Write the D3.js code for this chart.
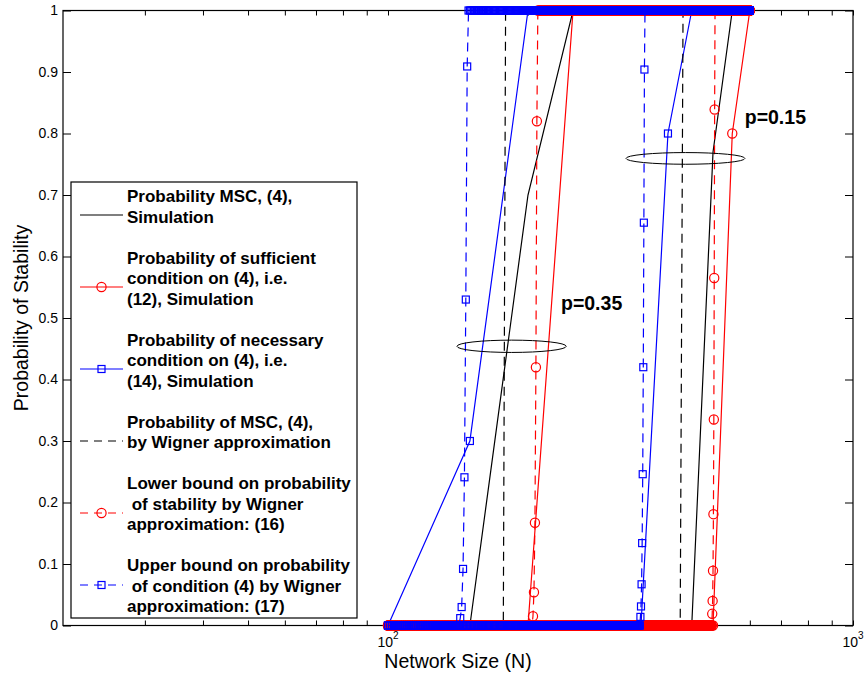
<!DOCTYPE html>
<html>
<head>
<meta charset="utf-8">
<title>Probability of Stability</title>
<script src="https://d3js.org/d3.v7.min.js"></script>
<style>
  body { margin: 0; background: #fff; }
  text { font-family: "Liberation Sans", Arial, Helvetica, sans-serif; }
</style>
</head>
<body>
<script>
var width = 866
var height = 681

// simulation, N = 100:50:600
var simN      = [100, 150, 200, 250, 300, 350, 400, 450, 500, 550, 600]
var mscSim35  = [0, 0, 0.70, 1, 1, 1, 1, 1, 1, 1, 1]
var suffSim35 = [0, 0, 0, 1, 1, 1, 1, 1, 1, 1, 1]
var necSim35  = [0, 0.30, 1, 1, 1, 1, 1, 1, 1, 1, 1]
var mscSim15  = [0, 0, 0, 0, 0, 0, 0, 0, 0.77, 1, 1]
var suffSim15 = [0, 0, 0, 0, 0, 0, 0, 0, 0, 0.80, 1]
var necSim15  = [0, 0, 0, 0, 0, 0, 0.80, 1, 1, 1, 1]

// Wigner approximation, one value per N from 100 to 600
var wignerRange = [100, 600]
// MSC by Wigner (no markers, only the jump shows)
var mscW35N = [100, 177, 179, 600], mscW35P = [0, 0, 1, 1]
var mscW15N = [100, 425, 431, 600], mscW15P = [0, 0, 1, 1]
var lowW35Start = 205, lowW35P = [0.015, 0.054, 0.167, 0.42, 0.82]
var lowW15Start = 498, lowW15P = [0.019, 0.040, 0.089, 0.181, 0.335, 0.565, 0.839]
var upW35Start  = 143, upW35P  = [0.012, 0.030, 0.092, 0.241, 0.530, 0.909]
var upW15Start  = 349, upW15P  = [0.014, 0.031, 0.067, 0.134, 0.246, 0.42, 0.655, 0.904]

// annotations
var ringN = [[140.7, 241.7], [325, 585.5]]
var ringP = [[0.444, 0.464], [0.750, 0.769]]
var labelText = ["p=0.35", "p=0.15"]
var labelN = [235.5, 585]
var labelP = [0.513, 0.815]

var xTicks = [30, 40, 50, 60, 70, 80, 90, 100, 200, 300, 400, 500, 600, 700, 800, 900, 1000]
var xLabels = [100, 1000]
var yTicks = [0, 0.1, 0.2, 0.3, 0.4, 0.5, 0.6, 0.7, 0.8, 0.9, 1]

var legendText = [
  ["Probability MSC, (4),", "Simulation"],
  ["Probability of sufficient", "condition on (4), i.e.", "(12), Simulation"],
  ["Probability of necessary", "condition on (4), i.e.", "(14), Simulation"],
  ["Probability of MSC, (4),", "by Wigner approximation"],
  ["Lower bound on probability", " of stability by Wigner", "approximation: (16)"],
  ["Upper bound on probability", " of condition (4) by Wigner", "approximation: (17)"]
]

var svg = d3.select("body").append("svg")
  .attr("width", width)
  .attr("height", height)

var x = d3.scaleLog().domain([20, 1000]).range([63, 853])
var y = d3.scaleLinear().domain([0, 1]).range([625.5, 10.5])

function pts(ns, ps) { return ns.map(function(n, i) { return {n: n, p: ps[i]} }) }
function stepPts(start, vals) {
  return d3.range(wignerRange[0], wignerRange[1] + 1).map(function(n) {
    var p = n < start ? 0 : (n < start + vals.length ? vals[n - start] : 1)
    return {n: n, p: p}
  })
}

var line = d3.line().x(d => x(d.n)).y(d => y(d.p))

// axes (ticks inside, box)
function styleAxis(g) {
  g.select(".domain").remove()
  g.selectAll(".tick line").attr("stroke", "#000")
  g.selectAll("text").attr("font-size", 14).attr("fill", "#000")
    .attr("font-family", '"Liberation Sans", Arial, sans-serif')
}
svg.append("g").attr("transform", "translate(0,625.5)")
  .call(d3.axisBottom(x).tickValues(xTicks).tickSize(-5).tickFormat(""))
  .call(styleAxis)
svg.append("g").attr("transform", "translate(0,10.5)")
  .call(d3.axisTop(x).tickValues(xTicks).tickSize(-5).tickFormat(""))
  .call(styleAxis)
svg.append("g").attr("transform", "translate(63,0)")
  .call(d3.axisLeft(y).tickValues(yTicks).tickSize(-8).tickPadding(5).tickFormat(d3.format(".1~f")))
  .call(styleAxis)
svg.append("g").attr("transform", "translate(853,0)")
  .call(d3.axisRight(y).tickValues(yTicks).tickSize(-8).tickFormat(""))
  .call(styleAxis)

svg.append("rect")
  .attr("x", x(20)).attr("y", y(1))
  .attr("width", x(1000) - x(20)).attr("height", y(0) - y(1))
  .attr("fill", "none").attr("stroke", "#000").attr("stroke-width", 1.2)

var xl = svg.selectAll(".xlab").data(xLabels).enter().append("text")
  .attr("class", "xlab")
  .attr("x", d => x(d)).attr("y", 647)
  .attr("text-anchor", "middle").attr("font-size", 14)
xl.append("tspan").text("10")
xl.append("tspan").attr("dy", -8).attr("font-size", 10).text(d => Math.round(Math.log10(d)))

svg.append("text")
  .attr("x", (x(20) + x(1000)) / 2).attr("y", 668)
  .attr("text-anchor", "middle").attr("font-size", 19.5)
  .text("Network Size (N)")
svg.append("text")
  .attr("transform", "translate(28," + (y(0) + y(1)) / 2 + ") rotate(-90)")
  .attr("text-anchor", "middle").attr("font-size", 19.5)
  .text("Probability of Stability")

// series
var simSeries = [
  {data: [pts(simN, mscSim35), pts(simN, mscSim15)], color: "#000", dash: null, mark: null},
  {data: [pts(simN, suffSim35), pts(simN, suffSim15)], color: "#f00", dash: null, mark: "circle"},
  {data: [pts(simN, necSim35), pts(simN, necSim15)], color: "#00f", dash: null, mark: "square"},
  {data: [pts(mscW35N, mscW35P), pts(mscW15N, mscW15P)], color: "#000", dash: "9,6", mark: null},
  {data: [stepPts(lowW35Start, lowW35P), stepPts(lowW15Start, lowW15P)], color: "#f00", dash: "9,6", mark: "circle"},
  {data: [stepPts(upW35Start, upW35P), stepPts(upW15Start, upW15P)], color: "#00f", dash: "9,6", mark: "square"}
]

function drawMarks(g, data, kind, color) {
  if (kind == "circle") {
    g.selectAll("circle.m").data(data).enter().append("circle")
      .attr("class", "m")
      .attr("cx", d => x(d.n)).attr("cy", d => y(d.p)).attr("r", 4.6)
      .attr("fill", "none").attr("stroke", color).attr("stroke-width", 1.2)
  } else if (kind == "square") {
    g.selectAll("rect.m").data(data).enter().append("rect")
      .attr("class", "m")
      .attr("x", d => x(d.n) - 3.5).attr("y", d => y(d.p) - 3.5)
      .attr("width", 7).attr("height", 7)
      .attr("fill", "none").attr("stroke", color).attr("stroke-width", 1.2)
  }
}

simSeries.forEach(function(s) {
  s.data.forEach(function(dat) {
    var g = svg.append("g")
    g.append("path").attr("d", line(dat))
      .attr("fill", "none").attr("stroke", s.color).attr("stroke-width", 1.2)
      .attr("stroke-dasharray", s.dash)
    drawMarks(g, dat, s.mark, s.color)
  })
})

// rings and labels
svg.selectAll(".ring").data(ringN).enter().append("ellipse")
  .attr("class", "ring")
  .attr("cx", d => (x(d[0]) + x(d[1])) / 2)
  .attr("cy", (d, i) => (y(ringP[i][0]) + y(ringP[i][1])) / 2)
  .attr("rx", d => (x(d[1]) - x(d[0])) / 2)
  .attr("ry", (d, i) => (y(ringP[i][0]) - y(ringP[i][1])) / 2)
  .attr("fill", "none").attr("stroke", "#000").attr("stroke-width", 1)

svg.selectAll(".plab").data(labelText).enter().append("text")
  .attr("class", "plab")
  .attr("x", (d, i) => x(labelN[i])).attr("y", (d, i) => y(labelP[i]))
  .attr("font-size", 19.5).attr("font-weight", "bold")
  .text(d => d)

// legend
var leg = svg.append("g")
leg.append("rect").attr("x", 71).attr("y", 182).attr("width", 286).attr("height", 436)
  .attr("fill", "#fff").attr("stroke", "#000").attr("stroke-width", 1.2)
var symY = [215, 287, 369, 441, 513, 585]
var lineH = 20.5
var base = 202
legendText.forEach(function(lines, i) {
  var s = simSeries[i]
  var t = leg.append("text").attr("x", 127).attr("y", base)
    .attr("font-size", 17).attr("font-weight", "bold").style("white-space", "pre")
  lines.forEach(function(l, j) {
    t.append("tspan").attr("x", 127).attr("y", base + j * lineH).text(l)
  })
  base += (lines.length + 1) * lineH
  var g = leg.append("g")
  g.append("line").attr("x1", 80).attr("x2", 123).attr("y1", symY[i]).attr("y2", symY[i])
    .attr("stroke", s.color).attr("stroke-width", 1.2).attr("stroke-dasharray", s.dash ? "8,6" : null)
  if (s.mark) {
    var sx = x.invert(101.5)
    var sy = y.invert(symY[i])
    drawMarks(g, [{n: sx, p: sy}], s.mark, s.color)
  }
})
</script>
</body>
</html>
